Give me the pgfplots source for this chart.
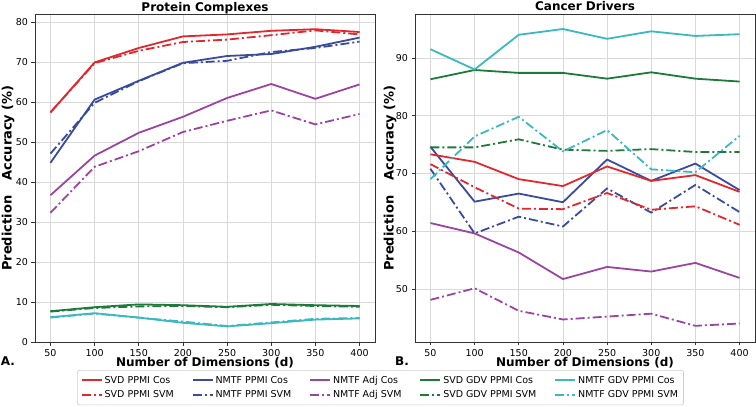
\documentclass[border=0pt]{standalone}
\usepackage{fontspec}
\setmainfont{DejaVu Sans}
\usepackage{pgfplots}
\pgfplotsset{compat=1.18}
\definecolor{cred}{HTML}{E0282E}
\definecolor{cblue}{HTML}{3A4B9C}
\definecolor{cpurple}{HTML}{9A45A0}
\definecolor{cgreen}{HTML}{1E7A3A}
\definecolor{ccyan}{HTML}{3BB8C0}

\pgfplotsset{
  panel/.style={
    scale only axis, width=340pt, height=328pt,
    xmin=32.5, xmax=417.5, xtick={50,100,...,400},
    grid=major, grid style={gray!30, line width=0.6pt},
    axis line style={black!80, line width=0.8pt},
    tick align=outside, tick pos=left, major tick length=3.5pt,
    tick style={black!80, line width=0.6pt},
    /pgf/number format/assume math mode=true,
    tick label style={font=\fontsize{9.5}{11}\selectfont},
    every axis title shift=0pt,
    title style={font=\fontsize{12}{14}\selectfont\bfseries, at={(axis description cs:0.5,1)}, anchor=base, inner sep=0pt, yshift=3pt},
    xlabel style={font=\fontsize{12}{14}\selectfont\bfseries, at={(axis description cs:0.5,-0.064)}, anchor=center},
    ylabel style={font=\fontsize{13}{15}\selectfont\bfseries, anchor=center},
    xlabel={Number of Dimensions (d)},
    ylabel={Prediction\hspace{15pt}Accuracy (\%)},
    every axis plot/.append style={line width=1.8pt, line join=round},
  },
  dd/.style={dash pattern=on 9pt off 3pt on 2pt off 3pt},
}

\begin{document}
\begin{tikzpicture}
\begin{axis}[panel, name=A, at={(0pt,0pt)}, anchor=south west,
    ymin=0, ymax=82, ytick={0,10,...,80},
    title={Protein Complexes},
    ylabel style={at={(axis description cs:-0.079,0.5)}},
    legend columns=5,
    legend style={at={(axis description cs:1.016,-0.139)}, anchor=center,
      font=\fontsize{9.5}{11}\selectfont, draw=gray!40, line width=0.6pt, rounded corners=2pt,
      /tikz/every even column/.append style={column sep=16pt},
      row sep=2pt, inner sep=3.5pt},
    legend cell align=left,
    legend image code/.code={\draw[#1, line width=1.8pt] (0pt,0pt) -- (20pt,0pt);},
]
% protein complexes
\addplot[cgreen, forget plot] coordinates {(50,7.7) (100,8.7) (150,9.4) (200,9.2) (250,8.8) (300,9.5) (350,9.2) (400,9.0)};
\addplot[cgreen, dd, forget plot] coordinates {(50,7.6) (100,8.5) (150,8.9) (200,9.0) (250,8.7) (300,9.3) (350,9.0) (400,8.8)};
\addplot[ccyan, forget plot] coordinates {(50,6.2) (100,7.2) (150,6.1) (200,4.8) (250,3.9) (300,4.7) (350,5.6) (400,5.9)};
\addplot[ccyan, dd, forget plot] coordinates {(50,6.1) (100,7.1) (150,6.1) (200,5.1) (250,4.0) (300,4.9) (350,5.8) (400,6.0)};
\addplot[cpurple, forget plot] coordinates {(50,36.7) (100,46.6) (150,52.3) (200,56.3) (250,61.0) (300,64.5) (350,60.8) (400,64.4)};
\addplot[cpurple, dd, forget plot] coordinates {(50,32.3) (100,43.8) (150,47.7) (200,52.5) (250,55.3) (300,57.9) (350,54.4) (400,57.0)};
\addplot[cblue, forget plot] coordinates {(50,44.8) (100,60.6) (150,65.3) (200,69.8) (250,71.5) (300,72.0) (350,73.8) (400,76.1)};
\addplot[cblue, dd, forget plot] coordinates {(50,47.1) (100,59.8) (150,65.2) (200,69.7) (250,70.3) (300,72.5) (350,73.5) (400,75.1)};
\addplot[cred, forget plot] coordinates {(50,57.4) (100,69.9) (150,73.5) (200,76.4) (250,76.9) (300,77.8) (350,78.2) (400,77.5)};
\addplot[cred, dd, forget plot] coordinates {(50,57.4) (100,69.7) (150,72.8) (200,75.0) (250,75.6) (300,76.7) (350,77.9) (400,76.9)};
% legend
\addlegendimage{cred}\addlegendentry{SVD PPMI Cos}
\addlegendimage{cblue}\addlegendentry{NMTF PPMI Cos}
\addlegendimage{cpurple}\addlegendentry{NMTF Adj Cos}
\addlegendimage{cgreen}\addlegendentry{SVD GDV PPMI Cos}
\addlegendimage{ccyan}\addlegendentry{NMTF GDV PPMI Cos}
\addlegendimage{cred, dd}\addlegendentry{SVD PPMI SVM}
\addlegendimage{cblue, dd}\addlegendentry{NMTF PPMI SVM}
\addlegendimage{cpurple, dd}\addlegendentry{NMTF Adj SVM}
\addlegendimage{cgreen, dd}\addlegendentry{SVD GDV PPMI SVM}
\addlegendimage{ccyan, dd}\addlegendentry{NMTF GDV PPMI SVM}
\end{axis}

\begin{axis}[panel, name=B, at={(380pt,0pt)}, anchor=south west,
    ymin=40.8, ymax=97.6, ytick={50,60,...,90},
    title={Cancer Drivers},
    ylabel style={at={(axis description cs:-0.0735,0.5)}},
]
\addplot[cpurple] coordinates {(50,61.4) (100,59.6) (150,56.3) (200,51.7) (250,53.8) (300,53.0) (350,54.5) (400,51.9)};
\addplot[cpurple, dd] coordinates {(50,48.1) (100,50.1) (150,46.2) (200,44.7) (250,45.2) (300,45.7) (350,43.6) (400,44.0)};
\addplot[cblue] coordinates {(50,74.6) (100,65.1) (150,66.5) (200,65.0) (250,72.4) (300,68.7) (350,71.7) (400,67.1)};
\addplot[cblue, dd] coordinates {(50,70.8) (100,59.6) (150,62.5) (200,60.8) (250,67.4) (300,63.2) (350,68.0) (400,63.3)};
\addplot[cred] coordinates {(50,73.3) (100,72.0) (150,69.0) (200,67.8) (250,71.2) (300,68.7) (350,69.7) (400,66.8)};
\addplot[cred, dd] coordinates {(50,71.6) (100,67.6) (150,63.9) (200,63.8) (250,66.6) (300,63.7) (350,64.3) (400,61.1)};
\addplot[cgreen] coordinates {(50,86.3) (100,87.9) (150,87.4) (200,87.4) (250,86.4) (300,87.5) (350,86.4) (400,85.9)};
\addplot[cgreen, dd] coordinates {(50,74.5) (100,74.5) (150,75.9) (200,74.1) (250,73.9) (300,74.2) (350,73.7) (400,73.7)};
\addplot[ccyan] coordinates {(50,91.5) (100,88.0) (150,94.0) (200,95.0) (250,93.3) (300,94.6) (350,93.8) (400,94.1)};
\addplot[ccyan, dd] coordinates {(50,69.0) (100,76.4) (150,79.8) (200,73.8) (250,77.5) (300,70.7) (350,70.2) (400,76.5)};
\end{axis}

\node[font=\fontsize{12}{14}\selectfont\bfseries] at (-27pt,-19pt) {A.};
\node[font=\fontsize{12}{14}\selectfont\bfseries] at (367pt,-19pt) {B.};
\pgfresetboundingbox
\path (-35pt,-65pt) rectangle (721pt,342pt);
\end{tikzpicture}
\end{document}
